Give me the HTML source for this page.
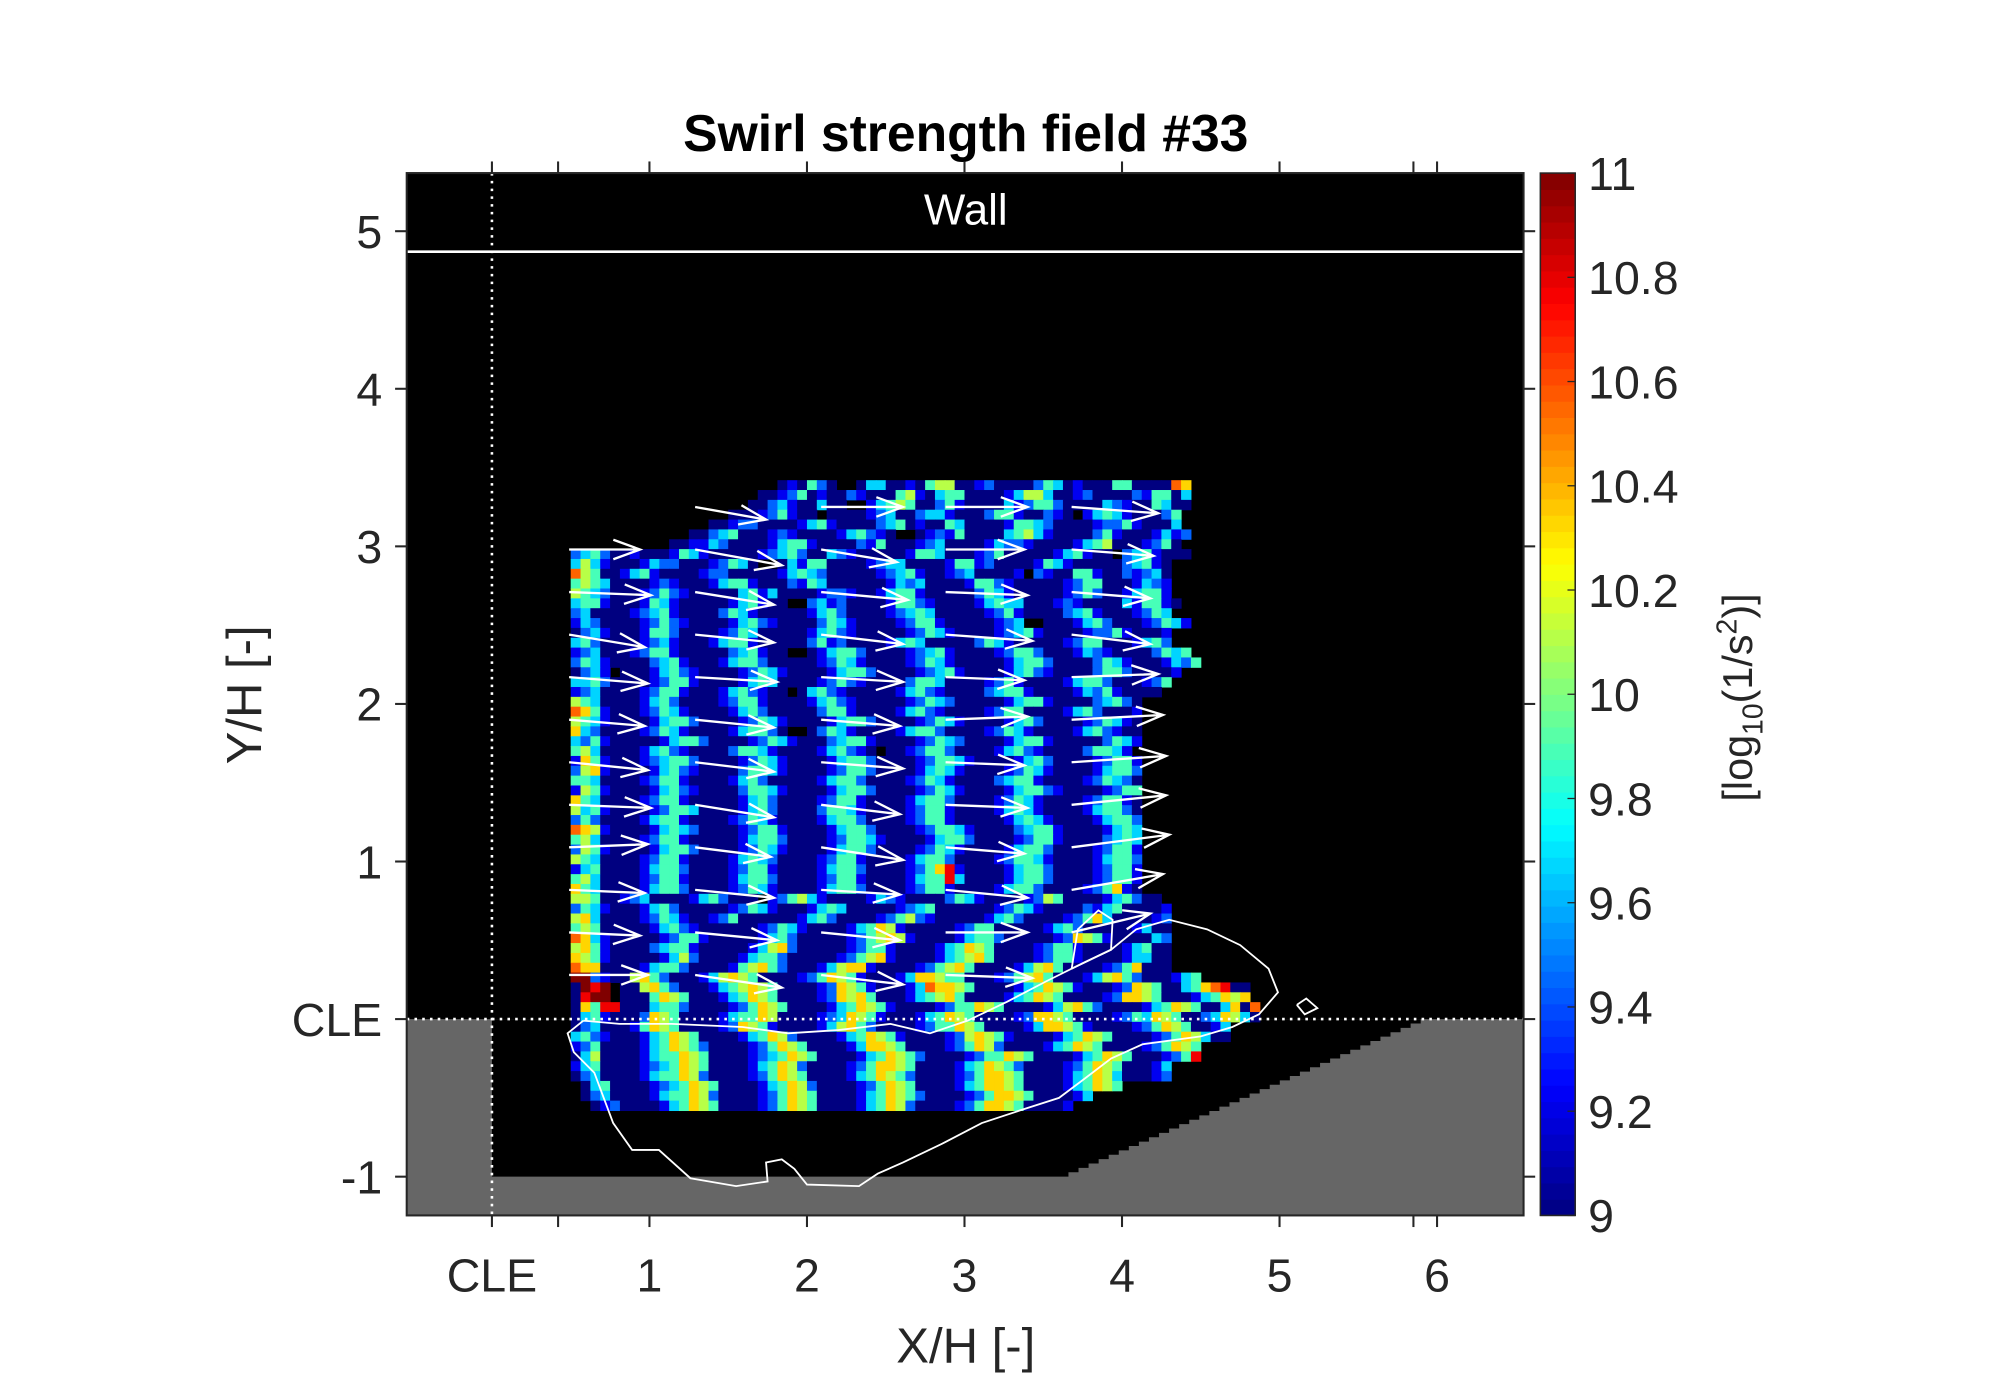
<!DOCTYPE html>
<html><head><meta charset="utf-8">
<style>
html,body{margin:0;padding:0;background:#fff;}
svg{display:block;font-family:"Liberation Sans",Arial,sans-serif;}
</style></head>
<body>
<svg id="fig" width="2000" height="1373" viewBox="0 0 1549 1063" preserveAspectRatio="none" xmlns="http://www.w3.org/2000/svg">
<defs><clipPath id="plotclip"><rect x="315" y="134" width="865" height="807"/></clipPath></defs>
<rect x="0" y="0" width="1549" height="1063" fill="#fff"/>
<text x="748" y="117" text-anchor="middle" font-size="40" font-weight="bold" fill="#000">Swirl strength field #33</text>
<g id="plot" clip-path="url(#plotclip)"></g>
<g id="axes"></g>
<g id="cbar"></g>
<text x="748" y="1055" text-anchor="middle" font-size="38" fill="#262626">X/H [-]</text>
<text transform="translate(202,538) rotate(-90)" text-anchor="middle" font-size="38" fill="#262626">Y/H [-]</text>
<text transform="translate(1357,540) rotate(-90)" text-anchor="middle" font-size="32" fill="#262626">[log<tspan font-size="22" dy="8">10</tspan><tspan dy="-8">(1/s</tspan><tspan font-size="22" dy="-12">2</tspan><tspan dy="12">)]</tspan></text>
</svg>
<script>
// ---- data ----
const xTicks = [0, 1, 2, 3, 4, 5, 6];
const xTickLabels = ["CLE", "1", "2", "3", "4", "5", "6"];
const xMinorTicks = [0.42, 5.85];
const yTicks = [-1, 0, 1, 2, 3, 4, 5];
const yTickLabels = ["-1", "CLE", "1", "2", "3", "4", "5"];
const cbarTicks = [9, 9.2, 9.4, 9.6, 9.8, 10, 10.2, 10.4, 10.6, 10.8, 11];
const cbarTickLabels = ["9", "9.2", "9.4", "9.6", "9.8", "10", "10.2", "10.4", "10.6", "10.8", "11"];
const wallY = 4.87;
const floorY = -1;
const rampStartX = 3.66;
const rampEndX = 5.96;
// heatmap: rows from top (y=3.42) down, step 0.0625; cols from x=0.5; digit d -> 9 + d*0.2222; '.' = no data
const fieldX0 = 0.5, fieldY0 = 3.42, cellSize = 0.0625;
const fieldRows = [
".....................010420..0330010455001200002430100044000076",
"...................00124010021000451034400001355300120000214403",
"..................0023100300..134540024100003124420000321004300",
"................000124100.0000123002331000244100210.1343100024",
"..............001220000134100002340100430000144320000122410003",
"............002340001210000134210..0121400003453100002410001312",
"..........0011320000134410000214000123000013221000013450001240",
"2342001000143100000123420032100000144300012400000134100.2341000",
"3531000132200012430..0314400001233000014412000014310000023410",
"7540013410000122000001343200000123410012300001.21004410021230",
"4543000012100013441000214300000013230000144210000012440001321",
"5432000124210000034130000122100134410000024310000012420013441",
"3441000143100000134100..23120000144210000134330001210000314410",
"2300001234100002431000001342000012343000001241000023410001243",
"1320000124210000134210000243100001244100000123..000134200012431",
"0231000144200001243000001342100000124310000123410000122410001",
"3420000123100013441000002412000013430000024310000012440001342",
"1230001244100000234100..013442000012341000012442000132100002434",
"2431000023410001344200000124310000124310000013442000024310001324",
"0231.000134210000124310000134420000123410000134210000244200001",
"3342000012441000013430000124210000244300001241000013442000124",
"1230000124410001342100.0342100000134210000234410000132410000",
"5430000134200001244100001342100000124320000013441000023420",
"7641000124310000134200000244100001342100001244000013420001",
"5431000013442000012431000013442000012431000013420000124310",
"6320000124310000134420..0243100001344200001243100001342100",
"3241000001344200001243100023441000012432000013441000002431",
"4530000134210000244310000134210.0012442000013421000024431",
"1641000123442000012431000013442000012443100001342000012441",
"2561000013421000024431000012442000013431000012431000013442",
"4430000124410000134200000134420000124310000234410000124320",
"1541000013421000024431000013442000012431000013442100001244",
"6430000124410000013420000124410000134420000124310000124410",
"5341000012443000013420000244310000124410000134310000134420",
"2420000134410000124310000134420000124410000013431000013442",
"7651000013432000012441000013442000012443100002344100001343",
"4530000124410000013442000012443100001344200001244100002343",
"2541000013442000012431000013442000012431000013442000012441",
"5430000124410000134320000124410000134420000124431000013442",
"1340000134420000124410000134420000124681000013442000012441",
"4530000124410000134420000124410000134483000013442000012441",
"6430000134420000124310000134420000124410000134420000124610",
"5540012300001342000.1245310000132100002431000012540000134200",
"2431000134200000124310001343000001234000000124310000213400001",
"5630000124310012400000013420000124521000001342000012463000012",
"4540000013421000000124310000134651000001244000001342000001300",
"7631000001244100000134200000124565100001344200000126541000032",
"5641000023441000001356200000124410000134654000012441000013400",
"6541000001352000013442000001245610000134564000012441000013300",
"7660000134420000145642000135661000012456400001356400001246000",
"9921005642000135654000012465410001366544000124564000135642000134",
"0989.0056420001345654000012654100013766540000134654100012654003467800",
"0899.0004654000134654000012656400013456400001346540000126654000134656",
"0648800034420000124654000013465410000124465400001356420000134654003607",
"0341000265400001344650000123654100013465400001266540000124365400236530",
"0230001465400001265410000135642000012446540000136654100001246540013",
"3421000134654000013465200001346541000012565410000134654000012465300",
"1240000134654200001246540000136654000012465200001346540000124654",
"0350000134465400001234654000013465420000124465400001346540001248",
"1340000123465400001346520000124665400001346542000012465400013",
"0230000134465200001246540000134654200001246654000013465300012",
".0340000123465400001346520000124654000013466540000134654",
".0230000134465200001246540000134654200001246654000013",
"..0120000134654000012465400001346520000124665400001"
];
// quiver arrows
const arrowY = [3.25, 2.98, 2.71, 2.44, 2.17, 1.90, 1.63, 1.36, 1.09, 0.82, 0.55, 0.28];
const arrowX = [0.49, 1.29, 2.09, 2.88, 3.68];
const arrowU = [
[0, 0.45, 0.52, 0.52, 0.55],
[0.45, 0.55, 0.48, 0.5, 0.52],
[0.52, 0.5, 0.55, 0.52, 0.5],
[0.48, 0.5, 0.52, 0.55, 0.5],
[0.5, 0.52, 0.52, 0.5, 0.55],
[0.48, 0.5, 0.5, 0.52, 0.58],
[0.5, 0.5, 0.52, 0.5, 0.6],
[0.52, 0.5, 0.5, 0.52, 0.6],
[0.5, 0.48, 0.52, 0.5, 0.62],
[0.48, 0.5, 0.5, 0.52, 0.58],
[0.45, 0.52, 0.5, 0.52, 0.5],
[0.5, 0.55, 0.52, 0.55, 0]
];
const arrowV = [
[0, -0.08, 0.0, 0.0, -0.04],
[0.0, -0.1, -0.08, 0.0, -0.04],
[-0.02, -0.08, -0.05, -0.02, -0.04],
[-0.08, -0.05, -0.06, -0.04, -0.06],
[-0.04, -0.03, -0.03, -0.02, 0.02],
[-0.04, -0.05, -0.04, 0.02, 0.03],
[-0.05, -0.06, -0.04, -0.02, 0.04],
[-0.02, -0.08, -0.06, -0.02, 0.06],
[0.02, -0.06, -0.08, -0.04, 0.08],
[-0.02, -0.05, -0.03, -0.05, 0.1],
[-0.02, -0.05, -0.05, 0.0, 0.12],
[0.0, -0.08, -0.06, -0.02, 0]
];
// contour (data units)
const contourX = [0.58,0.48,0.52,0.65,0.71,0.77,0.89,1.06,1.26,1.55,1.75,1.74,1.84,1.92,2.00,2.33,2.45,2.61,2.86,3.11,3.35,3.60,3.76,3.93,4.13,4.50,4.70,4.87,4.99,4.93,4.75,4.54,4.30,4.09,3.93,3.76,3.52,3.27,3.02,2.78,2.53,2.20,1.88,1.59,1.14,0.81,0.58];
const contourY = [-0.01,-0.09,-0.21,-0.34,-0.50,-0.66,-0.83,-0.83,-1.01,-1.06,-1.03,-0.91,-0.89,-0.95,-1.05,-1.06,-0.98,-0.91,-0.79,-0.66,-0.58,-0.50,-0.38,-0.25,-0.16,-0.11,-0.05,0.03,0.17,0.32,0.47,0.57,0.63,0.57,0.44,0.36,0.24,0.11,-0.01,-0.09,-0.03,-0.07,-0.09,-0.05,-0.03,-0.03,-0.01];
const loopX = [3.68,3.72,3.85,3.94,3.93,3.68];
const loopY = [0.32,0.57,0.69,0.63,0.44,0.32];
const loop2X = [5.11,5.17,5.24,5.16,5.11];
const loop2Y = [0.09,0.13,0.07,0.03,0.09];

// ---- scales ----
const PX0 = 381, PY0 = 789, UNIT = 122;
const L = 315, R = 1180, T = 134, B = 941;
const X = u => PX0 + UNIT * u;
const Y = v => PY0 - UNIT * v;
const CB = {x: 1193, w: 27, top: 134, bot: 941, vmin: 9, vmax: 11};
const CY = v => CB.bot - (v - CB.vmin) / (CB.vmax - CB.vmin) * (CB.bot - CB.top);
function jet(t) {
  const c = x => Math.max(0, Math.min(1, x));
  const r = c(1.5 - Math.abs(4 * t - 3)), g = c(1.5 - Math.abs(4 * t - 2)), b = c(1.5 - Math.abs(4 * t - 1));
  return `rgb(${Math.round(r*255)},${Math.round(g*255)},${Math.round(b*255)})`;
}
const NS = "http://www.w3.org/2000/svg";
function mk(tag, attrs, parent) {
  const e = document.createElementNS(NS, tag);
  for (const k in attrs) e.setAttribute(k, attrs[k]);
  parent.appendChild(e);
  return e;
}
const plot = document.getElementById('plot');
const axes = document.getElementById('axes');
const cbar = document.getElementById('cbar');

let bg = mk('rect', {x: L, y: T, width: R - L, height: B - T, fill: '#000'}, plot);


let gray = mk('rect', {x: L, y: Y(0), width: R - L, height: B - Y(0), fill: '#666'}, plot);


let pts = [[X(0), Y(0)], [X(0), Y(floorY)], [X(rampStartX), Y(floorY)]];
const nSteps = 36;
for (let i = 1; i <= nSteps; i++) {
  const xa = rampStartX + (rampEndX - rampStartX) * (i - 1) / nSteps;
  const xb = rampStartX + (rampEndX - rampStartX) * i / nSteps;
  const yv = floorY + (0 - floorY) * i / nSteps;
  pts.push([X(xa), Y(yv)]); pts.push([X(xb), Y(yv)]);
}
pts.push([X(rampEndX), Y(0)]);
let cav = mk('polygon', {points: pts.map(p => p.join(',')).join(' '), fill: '#000'}, plot);



// heatmap
const hm = mk('g', {}, plot);


const cs = UNIT * cellSize;
fieldRows.forEach((row, r) => {
  for (let c = 0; c < row.length; c++) {
    const ch = row[c];
    if (ch === '.' || ch === ' ') continue;
    const v = 9 + (+ch) * 0.2222;
    const cell = mk('rect', {x: X(fieldX0 + c * cellSize).toFixed(2), y: Y(fieldY0 - r * cellSize).toFixed(2), width: (cs + 0.4).toFixed(2), height: (cs + 0.4).toFixed(2), fill: jet((v - CB.vmin) / (CB.vmax - CB.vmin))}, hm);
    
    
  }
});

function poly(xs, ys, name) {
  const p = mk('polyline', {points: xs.map((x, i) => X(x).toFixed(1) + ',' + Y(ys[i]).toFixed(1)).join(' '), fill: 'none', stroke: '#fff', 'stroke-width': 1.4}, plot);
  
  
}
poly(contourX, contourY, 'recirculation-contour');
poly(loopX, loopY, 'inner-contour');
poly(loop2X, loop2Y, 'small-contour');

const ag = mk('g', {stroke: '#fff', 'stroke-width': 1.8, fill: 'none'}, plot);


arrowY.forEach((yy, i) => arrowX.forEach((xx, j) => {
  const u = arrowU[i][j], v = arrowV[i][j];
  if (!u) return;
  const x1 = X(xx), y1 = Y(yy), x2 = X(xx + u), y2 = Y(yy + v);
  const ang = Math.atan2(y2 - y1, x2 - x1), h = 22, a = 0.35;
  const d = `M${x1},${y1}L${x2},${y2}M${x2 - h*Math.cos(ang - a)},${y2 - h*Math.sin(ang - a)}L${x2},${y2}L${x2 - h*Math.cos(ang + a)},${y2 - h*Math.sin(ang + a)}`;
  const p = mk('path', {d: d}, ag);
  
  
}));

let wl = mk('line', {x1: L, x2: R, y1: Y(wallY), y2: Y(wallY), stroke: '#fff', 'stroke-width': 2}, plot);


let wt = mk('text', {x: 748, y: 174, 'text-anchor': 'middle', 'font-size': 34, fill: '#fff'}, plot);
wt.textContent = 'Wall';


let dv = mk('line', {x1: X(0), x2: X(0), y1: T, y2: B, stroke: '#fff', 'stroke-width': 2, 'stroke-dasharray': '2,4'}, plot);


let dh = mk('line', {x1: L, x2: R, y1: Y(0), y2: Y(0), stroke: '#fff', 'stroke-width': 2, 'stroke-dasharray': '2,4'}, plot);



let box = mk('rect', {x: L, y: T, width: R - L, height: B - T, fill: 'none', stroke: '#262626', 'stroke-width': 1.6}, axes);


const tk = 9;
xTicks.concat(xMinorTicks).forEach(t => {
  const x = X(t);
  let a = mk('line', {x1: x, x2: x, y1: B, y2: B + tk, stroke: '#262626', 'stroke-width': 1.6}, axes);
  
  
  let b = mk('line', {x1: x, x2: x, y1: T, y2: T - tk, stroke: '#262626', 'stroke-width': 1.6}, axes);
  
  
});
xTicks.forEach((t, i) => {
  const e = mk('text', {x: X(t), y: 1000, 'text-anchor': 'middle', 'font-size': 36, fill: '#262626'}, axes);
  e.textContent = xTickLabels[i];
  
  
});
yTicks.forEach((t, i) => {
  const y = Y(t);
  let a = mk('line', {x1: L - tk, x2: L, y1: y, y2: y, stroke: '#262626', 'stroke-width': 1.6}, axes);
  
  
  let b = mk('line', {x1: R, x2: R + tk, y1: y, y2: y, stroke: '#262626', 'stroke-width': 1.6}, axes);
  
  
  const e = mk('text', {x: 296, y: y + 13, 'text-anchor': 'end', 'font-size': 36, fill: '#262626'}, axes);
  e.textContent = yTickLabels[i];
  
  
});

const nb = 64;
for (let i = 0; i < nb; i++) {
  const v0 = CB.vmin + (CB.vmax - CB.vmin) * i / nb, v1 = CB.vmin + (CB.vmax - CB.vmin) * (i + 1) / nb;
  const s = mk('rect', {x: CB.x, y: CY(v1), width: CB.w, height: CY(v0) - CY(v1) + 0.5, fill: jet((i + 0.5) / nb)}, cbar);
  
  
}
let cbb = mk('rect', {x: CB.x, y: CB.top, width: CB.w, height: CB.bot - CB.top, fill: 'none', stroke: '#262626', 'stroke-width': 1.2}, cbar);


cbarTicks.forEach((t, i) => {
  const y = CY(t);
  const l = mk('line', {x1: CB.x + CB.w - 6, x2: CB.x + CB.w, y1: y, y2: y, stroke: '#262626', 'stroke-width': 1}, cbar);
  
  
  const e = mk('text', {x: 1230, y: y + 13, 'font-size': 36, fill: '#262626'}, cbar);
  e.textContent = cbarTickLabels[i];
  
  
});
</script>
</body></html>
